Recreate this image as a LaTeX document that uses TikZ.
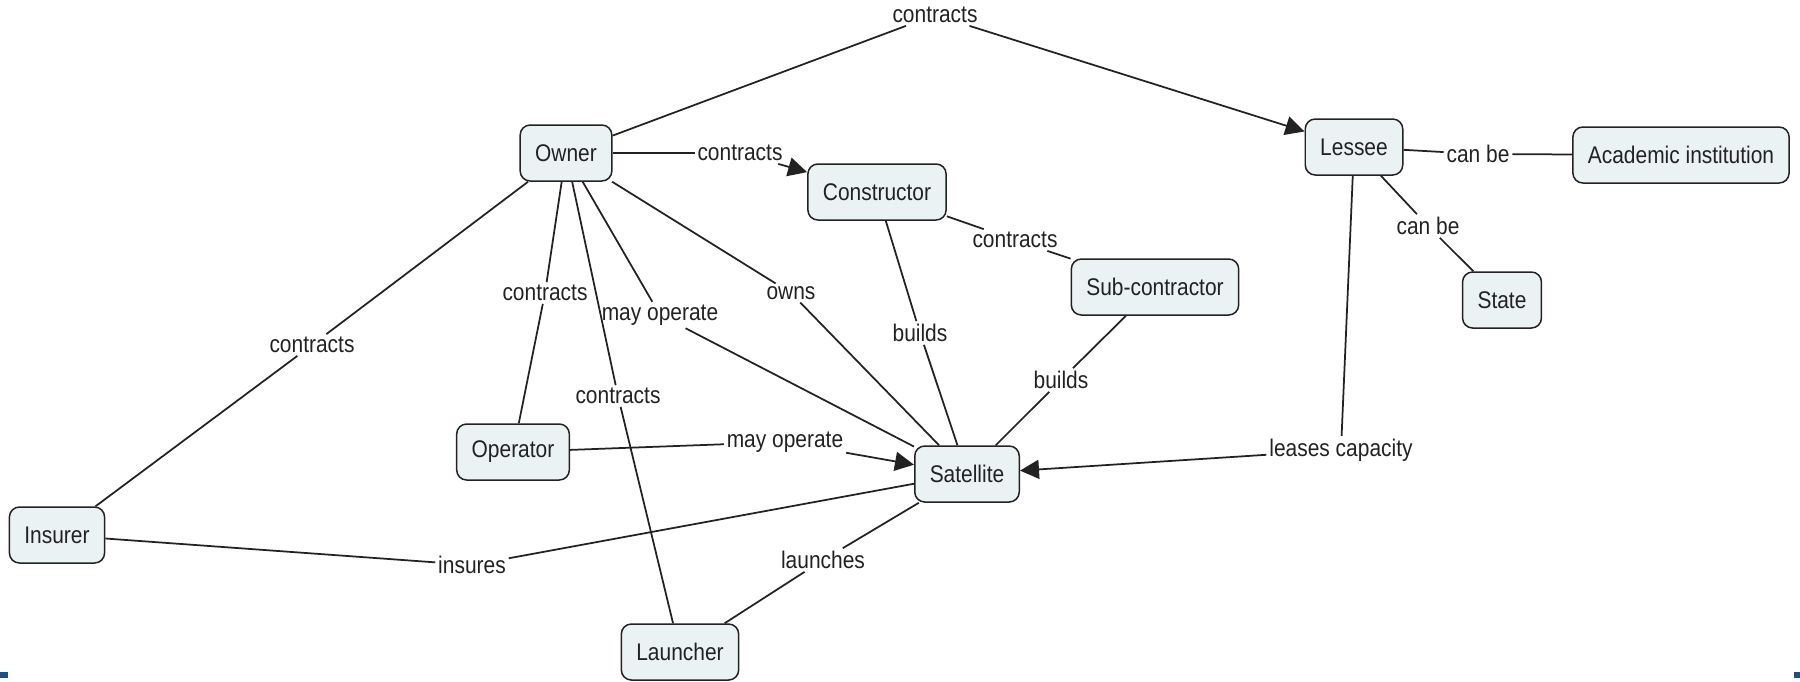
\documentclass[tikz,border=0pt]{standalone}
\usepackage{fontspec}
\setmainfont[FakeStretch=0.87]{Liberation Sans}
\usetikzlibrary{arrows.meta}

\definecolor{conceptfill}{HTML}{EBF2F4}
\definecolor{inkgrey}{HTML}{222222}
\definecolor{markblue}{HTML}{1F4E8C}

\begin{document}
\begin{tikzpicture}[x=0.02cm, y=-0.02cm,
	font=\fontsize{13.7pt}{16pt}\selectfont,
	concept/.style={draw=inkgrey, fill=conceptfill, rounded corners=0.2cm, line width=0.03cm, inner xsep=0.3cm, minimum height=1.12cm, text=inkgrey},
	linkword/.style={inner sep=1.5pt, text=inkgrey},
	con/.style={draw=inkgrey, line width=0.035cm},
	arr/.style={con, -{Triangle[length=0.38cm, width=0.38cm]}}]
	\useasboundingbox (0,0) rectangle (1800,681);

	% concepts
	\node[concept] (owner) at (566,153) {Owner};
	\node[concept] (constructor) at (877,192) {Constructor};
	\node[concept] (lessee) at (1354,147) {Lessee};
	\node[concept] (academic) at (1681,155) {Academic institution};
	\node[concept] (state) at (1502,300) {State};
	\node[concept] (subcon) at (1155,287) {Sub-contractor};
	\node[concept] (operator) at (513,452) {Operator};
	\node[concept] (satellite) at (967,474) {Satellite};
	\node[concept] (insurer) at (57,535) {Insurer};
	\node[concept] (launcher) at (680,652) {Launcher};

	% linking words
	\node[linkword] (ctop) at (935,15) {contracts};
	\node[linkword] (cconstr) at (740,153) {contracts};
	\node[linkword] (cinsur) at (312,345) {contracts};
	\node[linkword] (coper) at (545,293) {contracts};
	\node[linkword] (mayop) at (660,315) {may operate};
	\node[linkword] (owns) at (791,293) {owns};
	\node[linkword] (claunch) at (618,396) {contracts};
	\node[linkword] (buildsc) at (920,333) {builds};
	\node[linkword] (csub) at (1015,240) {contracts};
	\node[linkword] (buildss) at (1061,380) {builds};
	\node[linkword] (mayopb) at (785,442) {may operate};
	\node[linkword] (leases) at (1341,450) {leases capacity};
	\node[linkword] (insures) at (472,565) {insures};
	\node[linkword] (launches) at (823,560) {launches};
	\node[linkword] (canbea) at (1478,154) {can be};
	\node[linkword] (canbes) at (1428,226) {can be};

	\foreach \a/\b in {owner/ctop, owner/cconstr, owner/cinsur, cinsur/insurer, owner/coper, coper/operator,
		owner/mayop, mayop/satellite, owner/owns, owns/satellite, owner/claunch, claunch/launcher,
		constructor/buildsc, buildsc/satellite, constructor/csub, csub/subcon, subcon/buildss, buildss/satellite,
		operator/mayopb, lessee/leases, insurer/insures, insures/satellite, satellite/launches, launches/launcher,
		lessee/canbea, canbea/academic, lessee/canbes, canbes/state}
		\draw[con] (\a) -- (\b);

	\foreach \a/\b in {ctop/lessee, cconstr/constructor, mayopb/satellite, leases/satellite}
		\draw[arr] (\a) -- (\b);

	\fill[markblue] (0,672) rectangle (8,678);
	\fill[markblue] (1794,672) rectangle (1800,678);
\end{tikzpicture}
\end{document}
